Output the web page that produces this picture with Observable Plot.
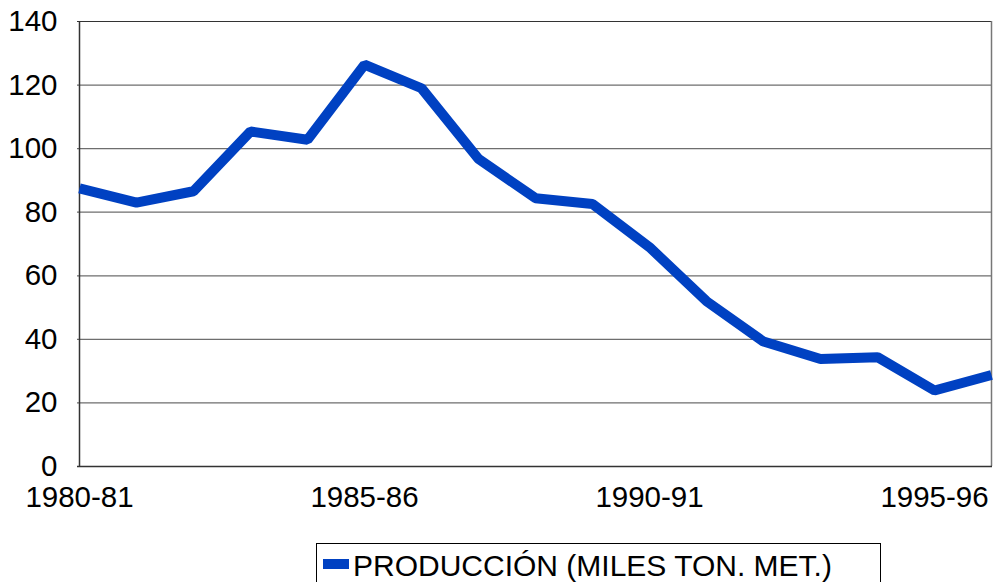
<!DOCTYPE html>
<html>
<head>
<meta charset="utf-8">
<script src="https://cdn.jsdelivr.net/npm/d3@7"></script>
<script src="https://cdn.jsdelivr.net/npm/@observablehq/plot@0.6"></script>
<style>
  html, body { margin: 0; padding: 0; background: #fff; }
  #wrap { position: relative; width: 995px; height: 582px; overflow: hidden; font-family: "Liberation Sans", Arial, sans-serif; }
  #legend { position: absolute; left: 316px; top: 543px; width: 565px; height: 60px; border: 1px solid #000; box-sizing: border-box; }
  #legend .sw { position: absolute; left: 6px; top: 15px; width: 26px; height: 10px; background: #0041c2; }
  #legend .lb { position: absolute; left: 36px; top: 5px; font-size: 30px; line-height: 34px; color: #000; white-space: nowrap; }
</style>
</head>
<body>
<div id="wrap">
  <div id="chart"></div>
  <div id="legend"><div class="sw"></div><div class="lb"></div></div>
</div>
<script>
const seasons = ["1980-81","1981-82","1982-83","1983-84","1984-85","1985-86","1986-87","1987-88","1988-89","1989-90","1990-91","1991-92","1992-93","1993-94","1994-95","1995-96","1996-97"];
const produccion = [87.5, 83, 86.6, 105.4, 102.8, 126.4, 119, 96.8, 84.4, 82.6, 69, 52, 39.3, 33.8, 34.4, 23.9, 28.8];
const xTicks = ["1980-81","1985-86","1990-91","1995-96"];
const yTicks = [0, 20, 40, 60, 80, 100, 120, 140];
const seriesName = "PRODUCCIÓN (MILES TON. MET.)";

const data = seasons.map((s, i) => ({season: s, value: produccion[i]}));

document.querySelector("#legend .lb").textContent = seriesName;

const chart = Plot.plot({
  width: 995,
  height: 530,
  marginLeft: 77,
  marginRight: 3,
  marginTop: 21,
  marginBottom: 64,
  style: {fontFamily: "'Liberation Sans', Arial, sans-serif", fontSize: "29.5px", color: "#000", background: "#fff"},
  x: {type: "point", domain: seasons, padding: 0, label: null},
  y: {domain: [0, 140], label: null},
  marks: [
    Plot.ruleY(yTicks, {stroke: "#6e6e6e", strokeWidth: 1.2, strokeOpacity: 1}),
    Plot.ruleY([140], {stroke: "#333", strokeWidth: 1.2}),
    Plot.ruleX([seasons[0]], {stroke: "#333", strokeWidth: 1.5}),
    Plot.ruleX([seasons[seasons.length - 1]], {stroke: "#777", strokeWidth: 1.5}),
    Plot.ruleY([0], {stroke: "#333", strokeWidth: 1.5}),
    Plot.line(data, {x: "season", y: "value", stroke: "#0041c2", strokeWidth: 10, strokeLinejoin: "bevel", strokeLinecap: "butt"}),
    Plot.axisX({ticks: xTicks, tickSize: 0, tickPadding: 20, fontSize: 29.5, label: null}),
    Plot.axisY({ticks: yTicks, tickSize: 0, tickPadding: 20, fontSize: 29.5, label: null})
  ]
});
document.getElementById("chart").appendChild(chart);
</script>
</body>
</html>
